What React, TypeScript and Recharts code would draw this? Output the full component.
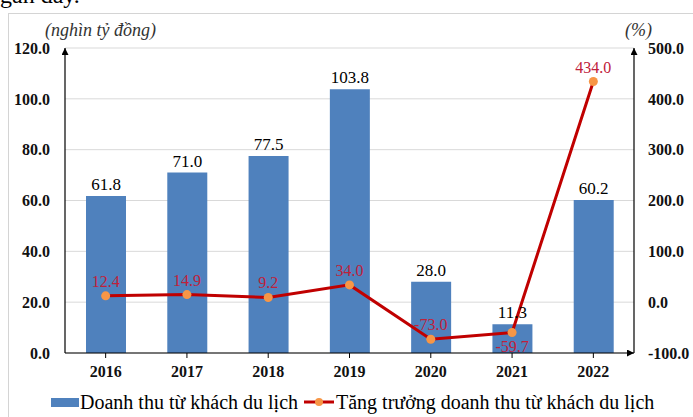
import React from 'react';
import {
  ComposedChart,
  Bar,
  Line,
  XAxis,
  YAxis,
  CartesianGrid,
  Legend,
  LabelList,
} from 'recharts';

const years = ['2016', '2017', '2018', '2019', '2020', '2021', '2022'];
const revenue = [61.8, 71.0, 77.5, 103.8, 28.0, 11.3, 60.2];
const growth = [12.4, 14.9, 9.2, 34.0, -73.0, -59.7, 434.0];
const leftTicks = [0, 20, 40, 60, 80, 100, 120];
const rightTicks = [-100, 0, 100, 200, 300, 400, 500];
const revenueName = 'Doanh thu từ khách du lịch';
const growthName = 'Tăng trưởng doanh thu từ khách du lịch';
const leftUnit = '(nghìn tỷ đồng)';
const rightUnit = '(%)';
const labelBelowYears = ['2021'];

const data = years.map((year, i) => ({ year, revenue: revenue[i], growth: growth[i] }));

const SERIF = '"Liberation Serif", "Times New Roman", serif';
const BAR_COLOR = '#4f81bd';
const LINE_COLOR = '#c00000';
const DOT_COLOR = '#f79646';
const LABEL_RED = '#c0203a';

const fmt = (v: number) => Number(v).toFixed(1);

const GrowthLabel = (props: any) => {
  const { x, y, value, index } = props;
  if (x == null || y == null) return null;
  const below = labelBelowYears.includes(years[index]);
  return (
    <text
      x={x}
      y={below ? y + 19 : y - 9}
      textAnchor="middle"
      fill={LABEL_RED}
      fontFamily={SERIF}
      fontSize={16}
    >
      {fmt(value)}
    </text>
  );
};

const GrowthDot = (props: any) => {
  const { cx, cy } = props;
  if (cx == null || cy == null) return null;
  return <circle cx={cx} cy={cy} r={4.5} fill={DOT_COLOR} stroke="none" />;
};

const LegendContent = (props: any) => {
  const payload = props.payload || [];
  const barItem = payload.find((p: any) => p.dataKey === 'revenue');
  const lineItem = payload.find((p: any) => p.dataKey === 'growth');
  return (
    <div
      style={{
        position: 'relative',
        height: 30,
        width: 693,
        fontFamily: SERIF,
        fontSize: 20,
        color: '#000',
        lineHeight: '30px',
      }}
    >
      <div
        style={{ position: 'absolute', left: 51, top: 11, width: 28, height: 9, background: BAR_COLOR }}
      />
      <div style={{ position: 'absolute', left: 80, top: 0, whiteSpace: 'nowrap' }}>
        {barItem ? barItem.value : revenueName}
      </div>
      <svg style={{ position: 'absolute', left: 304, top: 10 }} width={30} height={10}>
        <line x1={0} y1={5} x2={30} y2={5} stroke={LINE_COLOR} strokeWidth={3} />
        <circle cx={15} cy={5} r={4} fill={DOT_COLOR} />
      </svg>
      <div style={{ position: 'absolute', left: 336, top: 0, whiteSpace: 'nowrap' }}>
        {lineItem ? lineItem.value : growthName}
      </div>
    </div>
  );
};

const tickStyle = {
  fill: '#111',
  fontFamily: SERIF,
  fontSize: 16,
  fontWeight: 700,
};

export default function App() {
  return (
    <div
      style={{
        position: 'absolute',
        left: 0,
        top: 0,
        width: 693,
        height: 417,
        overflow: 'hidden',
        background: '#fff',
      }}
    >
      <div
        style={{
          position: 'absolute',
          left: 0,
          top: -20,
          fontFamily: SERIF,
          fontSize: 24,
          lineHeight: '30px',
          color: '#000',
          whiteSpace: 'nowrap',
        }}
      >
        gần đây.
      </div>
      <div
        style={{
          position: 'absolute',
          left: 8,
          top: 13,
          width: 720,
          height: 440,
          border: '1px solid #d4d4d4',
        }}
      />
      <div
        style={{
          position: 'absolute',
          left: 45,
          top: 19,
          fontFamily: SERIF,
          fontStyle: 'italic',
          fontSize: 18,
          lineHeight: '22px',
          color: '#333',
          whiteSpace: 'nowrap',
        }}
      >
        {leftUnit}
      </div>
      <div
        style={{
          position: 'absolute',
          left: 625,
          top: 19,
          fontFamily: SERIF,
          fontStyle: 'italic',
          fontSize: 18,
          lineHeight: '22px',
          color: '#333',
          whiteSpace: 'nowrap',
        }}
      >
        {rightUnit}
      </div>
      <div style={{ position: 'absolute', left: 0, top: 0 }}>
        <ComposedChart
          width={693}
          height={417}
          data={data}
          margin={{ top: 48, right: 0, bottom: 0, left: 8 }}
          barCategoryGap={0}
        >
          <defs>
            <marker
              id="axisArrow"
              viewBox="0 0 10 10"
              refX={10}
              refY={5}
              markerWidth={7}
              markerHeight={7}
              markerUnits="userSpaceOnUse"
              orient="auto-start-reverse"
            >
              <path d="M0,0 L10,5 L0,10 z" fill="#000" />
            </marker>
          </defs>
          <CartesianGrid yAxisId="left" vertical={false} stroke="#d9d9d9" strokeWidth={1} />
          <XAxis
            dataKey="year"
            height={34}
            tickSize={5}
            tickMargin={8}
            tickLine={{ stroke: '#000' }}
            axisLine={{ stroke: '#000', strokeWidth: 1.2, markerEnd: 'url(#axisArrow)' }}
            tick={tickStyle}
            interval={0}
          />
          <YAxis
            yAxisId="left"
            orientation="left"
            width={57}
            domain={[0, 120]}
            ticks={leftTicks}
            tickFormatter={fmt}
            tickLine={false}
            tickSize={0}
            tickMargin={15}
            axisLine={{ stroke: '#000', strokeWidth: 1.2, markerStart: 'url(#axisArrow)' }}
            tick={tickStyle}
            allowDataOverflow
          />
          <YAxis
            yAxisId="right"
            orientation="right"
            width={59}
            domain={[-100, 500]}
            ticks={rightTicks}
            tickFormatter={fmt}
            tickLine={false}
            tickSize={0}
            tickMargin={14}
            axisLine={{ stroke: '#000', strokeWidth: 1.2, markerStart: 'url(#axisArrow)' }}
            tick={tickStyle}
            allowDataOverflow
          />
          <Bar
            yAxisId="left"
            dataKey="revenue"
            name={revenueName}
            fill={BAR_COLOR}
            barSize={40}
            isAnimationActive={false}
          >
            <LabelList
              dataKey="revenue"
              position="top"
              offset={6}
              formatter={(v: any) => fmt(v)}
              fill="#000"
              fontFamily={SERIF}
              fontSize={17}
            />
          </Bar>
          <Line
            yAxisId="right"
            dataKey="growth"
            name={growthName}
            type="linear"
            stroke={LINE_COLOR}
            strokeWidth={3}
            dot={<GrowthDot />}
            activeDot={false}
            label={<GrowthLabel />}
            isAnimationActive={false}
          />
          <Legend
            verticalAlign="bottom"
            align="left"
            height={30}
            content={<LegendContent />}
            wrapperStyle={{ left: 0, width: 693, height: 30 }}
          />
        </ComposedChart>
      </div>
    </div>
  );
}
